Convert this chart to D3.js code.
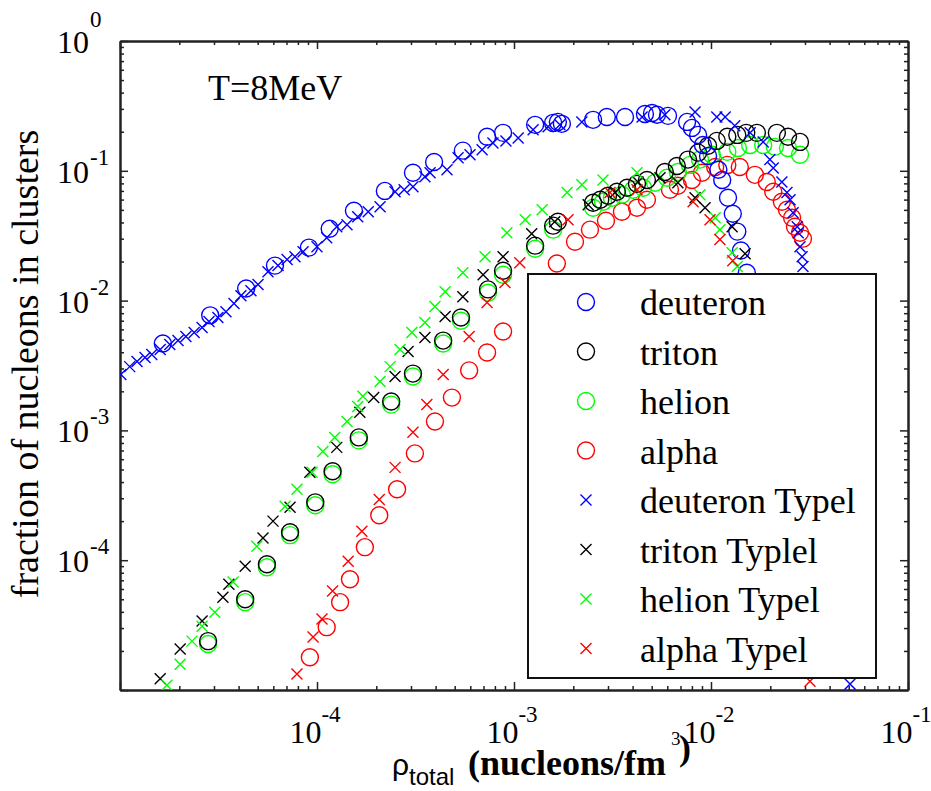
<!DOCTYPE html>
<html>
<head>
<meta charset="utf-8">
<script src="https://cdn.jsdelivr.net/npm/d3@7"></script>
<style>
  body { margin: 0; background: #fff; }
</style>
</head>
<body>
<script>
// values (nucleons/fm^3 , fraction)
var deuteronX = [1.65e-5, 2.87e-5, 4.37e-5, 6.12e-5, 9.1e-5, 1.16e-4, 1.54e-4, 2.21e-4, 3.07e-4, 3.93e-4, 5.5e-4, 7.3e-4, 8.8e-4, 1.28e-3, 1.58e-3, 1.67e-3, 1.75e-3, 2.52e-3, 2.96e-3, 3.66e-3, 4.62e-3, 5.02e-3, 5.32e-3, 6.05e-3, 7.56e-3, 8.0e-3, 8.6e-3, 9.1e-3, 9.66e-3, 1.09e-2, 1.14e-2, 1.22e-2, 1.29e-2, 1.36e-2, 1.42e-2, 1.52e-2];
var deuteronY = [4.67e-3, 7.7e-3, 1.24e-2, 1.86e-2, 2.56e-2, 3.58e-2, 4.92e-2, 7.0e-2, 9.66e-2, 0.117, 0.143, 0.183, 0.196, 0.226, 0.234, 0.238, 0.23, 0.247, 0.26, 0.26, 0.274, 0.279, 0.27, 0.265, 0.238, 0.214, 0.189, 0.158, 0.130, 0.102, 0.085, 0.062, 0.0467, 0.034, 0.0243, 0.0164];

var tritonX = [2.80e-5, 4.32e-5, 5.57e-5, 7.3e-5, 9.8e-5, 1.2e-4, 1.63e-4, 2.38e-4, 3.07e-4, 4.37e-4, 5.38e-4, 7.38e-4, 8.8e-4, 1.28e-3, 1.58e-3, 1.67e-3, 2.52e-3, 2.74e-3, 3.0e-3, 3.33e-3, 3.75e-3, 4.21e-3, 4.73e-3, 5.83e-3, 6.71e-3, 7.64e-3, 8.6e-3, 9.66e-3, 1.07e-2, 1.21e-2, 1.36e-2, 1.51e-2, 1.71e-2, 2.16e-2, 2.46e-2, 2.83e-2];
var tritonY = [2.38e-5, 5.0e-5, 9.3e-5, 1.64e-4, 2.79e-4, 4.84e-4, 8.83e-4, 1.67e-3, 2.74e-3, 4.92e-3, 7.4e-3, 1.22e-2, 1.70e-2, 2.65e-2, 3.78e-2, 4.05e-2, 5.67e-2, 5.98e-2, 6.42e-2, 6.89e-2, 7.4e-2, 7.94e-2, 8.5e-2, 9.8e-2, 0.109, 0.122, 0.138, 0.156, 0.170, 0.183, 0.189, 0.196, 0.196, 0.196, 0.183, 0.167];

var helionX = [2.80e-5, 4.32e-5, 5.57e-5, 7.3e-5, 9.8e-5, 1.2e-4, 1.63e-4, 2.38e-4, 3.07e-4, 4.37e-4, 5.38e-4, 7.38e-4, 8.8e-4, 1.28e-3, 1.58e-3, 2.52e-3, 2.83e-3, 3.14e-3, 3.53e-3, 4.02e-3, 4.52e-3, 5.2e-3, 5.98e-3, 6.79e-3, 7.82e-3, 8.79e-3, 1.01e-2, 1.21e-2, 1.37e-2, 1.58e-2, 1.84e-2, 2.11e-2, 2.46e-2, 2.83e-2];
var helionY = [2.26e-5, 4.75e-5, 8.83e-5, 1.56e-4, 2.65e-4, 4.59e-4, 8.38e-4, 1.58e-3, 2.6e-3, 4.67e-3, 7.0e-3, 1.15e-2, 1.58e-2, 2.51e-2, 3.52e-2, 5.19e-2, 5.78e-2, 6.2e-2, 6.54e-2, 7.14e-2, 7.4e-2, 8.09e-2, 8.83e-2, 9.8e-2, 0.111, 0.122, 0.133, 0.140, 0.150, 0.158, 0.158, 0.153, 0.150, 0.133];

var alphaX = [9.2e-5, 1.12e-4, 1.31e-4, 1.47e-4, 1.75e-4, 2.07e-4, 2.55e-4, 3.14e-4, 3.97e-4, 4.84e-4, 5.92e-4, 7.3e-4, 8.8e-4, 1.65e-3, 2.04e-3, 2.43e-3, 2.93e-3, 3.53e-3, 4.21e-3, 4.73e-3, 6.19e-3, 6.79e-3, 8.0e-3, 9.0e-3, 1.05e-2, 1.21e-2, 1.40e-2, 1.67e-2, 1.92e-2, 2.07e-2, 2.29e-2, 2.43e-2, 2.58e-2, 2.67e-2, 2.83e-2, 2.93e-2];
var alphaY = [1.79e-5, 3.05e-5, 4.75e-5, 7.14e-5, 1.26e-4, 2.22e-4, 3.52e-4, 6.65e-4, 1.17e-3, 1.79e-3, 2.9e-3, 3.98e-3, 5.78e-3, 1.93e-2, 2.84e-2, 3.52e-2, 4.12e-2, 4.84e-2, 5.19e-2, 5.98e-2, 7.14e-2, 7.67e-2, 8.5e-2, 9.66e-2, 0.107, 0.111, 0.107, 9.31e-2, 8.2e-2, 6.89e-2, 5.78e-2, 5.01e-2, 4.35e-2, 3.71e-2, 3.33e-2, 3.0e-2];

var deuteronTypelX = [1.01e-5, 1.12e-5, 1.22e-5, 1.34e-5, 1.45e-5, 1.60e-5, 1.79e-5, 1.97e-5, 2.16e-5, 2.38e-5, 2.61e-5, 2.83e-5, 3.14e-5, 3.45e-5, 3.79e-5, 4.11e-5, 4.62e-5, 5.02e-5, 5.64e-5, 6.34e-5, 7.05e-5, 7.73e-5, 8.5e-5, 1.0e-4, 1.12e-4, 1.26e-4, 1.42e-4, 1.61e-4, 1.82e-4, 2.09e-4, 2.49e-4, 2.77e-4, 3.07e-4, 3.53e-4, 3.75e-4, 4.57e-4, 5.2e-4, 5.98e-4, 6.89e-4, 7.82e-4, 9.1e-4, 1.05e-3, 1.25e-3, 1.49e-3, 1.71e-3, 2.21e-3, 4.47e-3, 5.83e-3, 8.3e-3, 1.07e-2, 1.18e-2, 1.32e-2, 1.58e-2, 1.84e-2, 1.99e-2, 2.07e-2, 2.29e-2, 2.43e-2, 2.52e-2, 2.61e-2, 2.74e-2, 2.77e-2, 2.83e-2, 2.90e-2, 2.93e-2, 5.08e-2];
var deuteronTypelY = [2.70e-3, 3.10e-3, 3.40e-3, 3.65e-3, 3.84e-3, 4.20e-3, 4.59e-3, 4.92e-3, 5.28e-3, 5.67e-3, 6.2e-3, 6.9e-3, 7.4e-3, 8.2e-3, 9.5e-3, 1.09e-2, 1.19e-2, 1.33e-2, 1.67e-2, 1.86e-2, 2.07e-2, 2.18e-2, 2.38e-2, 2.60e-2, 3.05e-2, 3.71e-2, 3.84e-2, 4.43e-2, 4.84e-2, 5.29e-2, 6.89e-2, 7.14e-2, 7.53e-2, 8.99e-2, 9.66e-2, 0.102, 0.126, 0.133, 0.145, 0.164, 0.170, 0.179, 0.207, 0.218, 0.226, 0.238, 0.260, 0.27, 0.284, 0.26, 0.26, 0.222, 0.196, 0.167, 0.122, 0.105, 8.2e-2, 6.8e-2, 5.98e-2, 4.75e-2, 3.71e-2, 3.33e-2, 2.60e-2, 2.18e-2, 1.83e-2, 1.11e-5];

var tritonTypelX = [1.60e-5, 2.02e-5, 2.61e-5, 3.33e-5, 3.57e-5, 4.32e-5, 5.32e-5, 5.98e-5, 7.3e-5, 9.2e-5, 1.26e-4, 1.65e-4, 1.94e-4, 2.49e-4, 2.9e-4, 3.53e-4, 4.47e-4, 5.5e-4, 6.97e-4, 8.8e-4, 1.23e-3, 1.61e-3, 2.38e-3, 3.26e-3, 4.26e-3, 5.51e-3, 6.79e-3, 8.3e-3, 9.33e-3, 1.28e-2, 1.49e-2];
var tritonTypelY = [1.22e-5, 2.07e-5, 3.40e-5, 5.19e-5, 6.54e-5, 9.0e-5, 1.48e-4, 2.0e-4, 2.56e-4, 4.75e-4, 7.4e-4, 1.38e-3, 1.79e-3, 2.6e-3, 4.05e-3, 5.19e-3, 7.53e-3, 1.07e-2, 1.58e-2, 2.18e-2, 3.28e-2, 4.05e-2, 5.48e-2, 6.8e-2, 8.2e-2, 8.83e-2, 8.09e-2, 6.2e-2, 5.19e-2, 3.71e-2, 2.30e-2];

var helionTypelX = [1.73e-5, 2.02e-5, 2.32e-5, 2.61e-5, 3.03e-5, 3.75e-5, 4.95e-5, 6.89e-5, 7.91e-5, 9.44e-5, 1.07e-4, 1.23e-4, 1.42e-4, 1.61e-4, 1.71e-4, 2.09e-4, 2.35e-4, 2.64e-4, 3.03e-4, 3.53e-4, 3.97e-4, 4.47e-4, 5.5e-4, 7.13e-4, 9.2e-4, 1.14e-3, 1.39e-3, 1.86e-3, 2.21e-3, 2.83e-3, 4.21e-3, 8.79e-3, 1.05e-2, 1.11e-2, 1.28e-2, 1.36e-2];
var helionTypelY = [1.09e-5, 1.58e-5, 2.38e-5, 3.1e-5, 3.98e-5, 6.78e-5, 1.28e-4, 2.6e-4, 3.52e-4, 4.75e-4, 6.89e-4, 8.83e-4, 1.17e-3, 1.53e-3, 1.83e-3, 2.38e-3, 3.1e-3, 4.2e-3, 5.67e-3, 6.78e-3, 8.99e-3, 1.17e-2, 1.64e-2, 2.18e-2, 3.33e-2, 4.2e-2, 5.01e-2, 6.8e-2, 7.8e-2, 8.5e-2, 9.66e-2, 6.54e-2, 4.35e-2, 3.52e-2, 2.34e-2, 1.83e-2];

var alphaTypelX = [7.91e-5, 9.55e-5, 1.06e-4, 1.2e-4, 1.44e-4, 1.69e-4, 2.07e-4, 2.49e-4, 3.07e-4, 3.61e-4, 4.37e-4, 5.92e-4, 7.3e-4, 9.0e-4, 1.07e-3, 1.88e-3, 3.07e-3, 4.21e-3, 8.11e-3, 9.89e-3, 1.11e-2, 1.29e-2, 3.18e-2];
var alphaTypelY = [1.33e-5, 2.56e-5, 3.52e-5, 5.78e-5, 9.8e-5, 1.67e-4, 2.94e-4, 5.19e-4, 9.66e-4, 1.58e-3, 2.7e-3, 5.28e-3, 9.66e-3, 1.38e-2, 1.96e-2, 4.2e-2, 6.8e-2, 7.14e-2, 5.78e-2, 4.2e-2, 2.95e-2, 2.03e-2, 1.17e-5];

var legendNames = ["deuteron", "triton", "helion", "alpha", "deuteron Typel", "triton Typlel", "helion Typel", "alpha Typel"];
var xTickExps = [-4, -3, -2, -1];
var yTickExps = [0, -1, -2, -3, -4];

var width = 931;
var height = 791;
var margin = {top: 41, left: 120, right: 23, bottom: 101};
var serif = "'Liberation Serif', 'DejaVu Serif', 'Times New Roman', serif";
var sans = "'Liberation Sans', 'DejaVu Sans', Arial, sans-serif";

var svg = d3.select("body").append("svg")
  .attr("width", width)
  .attr("height", height)
  .attr("font-family", serif);

var xScale = d3.scaleLog()
  .domain([1e-5, 1e-1])
  .range([margin.left, width - margin.right]);

var yScale = d3.scaleLog()
  .domain([1e-5, 1])
  .range([height - margin.bottom, margin.top]);

var plotW = width - margin.right - margin.left;
var plotH = height - margin.bottom - margin.top;

svg.append("defs").append("clipPath").attr("id", "plotclip")
  .append("rect")
  .attr("x", margin.left).attr("y", margin.top)
  .attr("width", plotW).attr("height", plotH);

// minor / major tick values
var xMajor = [1e-5, 1e-4, 1e-3, 1e-2, 1e-1];
var yMajor = [1e-5, 1e-4, 1e-3, 1e-2, 1e-1, 1];
function minors(lo, hi) {
  var out = [];
  for (var k = lo; k < hi; k++)
    for (var m = 2; m <= 9; m++) out.push(m * Math.pow(10, k));
  return out;
}
var xMinor = minors(-5, -1);
var yMinor = minors(-5, 0);

function drawAxis(axisFn, scale, major, minor, transform) {
  var g = svg.append("g").attr("transform", transform);
  g.call(axisFn(scale).tickValues(major).tickSize(-8).tickSizeOuter(0).tickFormat(""));
  g.append("g").call(axisFn(scale).tickValues(minor).tickSize(-4).tickSizeOuter(0).tickFormat(""));
  g.selectAll(".domain").attr("stroke", "#222").attr("stroke-width", 2);
  g.selectAll(".tick line").attr("stroke", "#222").attr("stroke-width", 1.5);
}
drawAxis(d3.axisBottom, xScale, xMajor, xMinor, "translate(0," + (height - margin.bottom) + ")");
drawAxis(d3.axisTop, xScale, xMajor, xMinor, "translate(0," + margin.top + ")");
drawAxis(d3.axisLeft, yScale, yMajor, yMinor, "translate(" + margin.left + ",0)");
drawAxis(d3.axisRight, yScale, yMajor, yMinor, "translate(" + (width - margin.right) + ",0)");

function txt(x, y, size) {
  return svg.append("text")
    .attr("x", x).attr("y", y)
    .attr("font-family", serif)
    .attr("font-size", size)
    .attr("fill", "#000");
}

// tick labels 10^n
xTickExps.forEach(function(e) {
  var t = txt(xScale(Math.pow(10, e)) - 2, 743, 32).attr("text-anchor", "middle");
  t.append("tspan").text("10");
  t.append("tspan").attr("dy", -21).attr("font-size", 23).text(e);
});
yTickExps.forEach(function(e) {
  var yy = yScale(Math.pow(10, e));
  txt(89, yy + 12, 32).attr("text-anchor", "end").text("10");
  txt(90, e === 0 ? yy - 14 : yy - 6, 23).text(e);
});

// axis titles
txt(0, 0, 38)
  .attr("transform", "translate(38,364) rotate(-90)")
  .attr("text-anchor", "middle")
  .text("fraction of nucleons in clusters");

var xt = txt(392, 775, 36);
xt.append("tspan").attr("font-family", sans).attr("font-size", 30).text("ρ");
xt.append("tspan").attr("x", 409).attr("y", 785).attr("font-family", sans).attr("font-size", 24).text("total");
xt.append("tspan").attr("x", 468).attr("y", 775).attr("font-weight", "bold").text("(nucleons/fm");
xt.append("tspan").attr("x", 671).attr("y", 745).attr("font-size", 19).text("3");
xt.append("tspan").attr("x", 679).attr("y", 760).attr("font-weight", "bold").text(")");

txt(208, 100, 36).text("T=8MeV");

// series
var colors = ["#0000ff", "#000000", "#00ff00", "#ff0000"];
var series = [
  {name: legendNames[0], xs: deuteronX, ys: deuteronY, color: colors[0], shape: "circle"},
  {name: legendNames[1], xs: tritonX, ys: tritonY, color: colors[1], shape: "circle"},
  {name: legendNames[2], xs: helionX, ys: helionY, color: colors[2], shape: "circle"},
  {name: legendNames[3], xs: alphaX, ys: alphaY, color: colors[3], shape: "circle"},
  {name: legendNames[4], xs: deuteronTypelX, ys: deuteronTypelY, color: colors[0], shape: "cross"},
  {name: legendNames[5], xs: tritonTypelX, ys: tritonTypelY, color: colors[1], shape: "cross"},
  {name: legendNames[6], xs: helionTypelX, ys: helionTypelY, color: colors[2], shape: "cross"},
  {name: legendNames[7], xs: alphaTypelX, ys: alphaTypelY, color: colors[3], shape: "cross"}
];

var crossPath = "M-5.5,-5.5L5.5,5.5M-5.5,5.5L5.5,-5.5";
function addMarker(sel, s) {
  if (s.shape === "circle") {
    sel.append("circle").attr("r", 8.5);
  } else {
    sel.append("path").attr("d", crossPath);
  }
  sel.selectAll("circle,path")
    .attr("fill", "none")
    .attr("stroke", s.color)
    .attr("stroke-width", 1.4);
}

var plot = svg.append("g").attr("clip-path", "url(#plotclip)");
var drawOrder = [3, 2, 1, 0, 4, 5, 6, 7];
drawOrder.forEach(function(i) {
  var s = series[i];
  var pts = s.xs.map(function(v, j) { return {x: v, y: s.ys[j]}; });
  plot.append("g").selectAll("g")
    .data(pts)
    .enter()
    .append("g")
    .attr("transform", function(d) {
      return "translate(" + xScale(d.x) + "," + yScale(d.y) + ")";
    })
    .each(function() { addMarker(d3.select(this), s); });
});

// legend
var legend = svg.append("g");
legend.append("rect")
  .attr("x", 528).attr("y", 274)
  .attr("width", 348).attr("height", 404)
  .attr("fill", "#fff")
  .attr("stroke", "#111")
  .attr("stroke-width", 2);
series.forEach(function(s, i) {
  var ry = 302 + i * 49.5;
  var m = legend.append("g").attr("transform", "translate(586," + ry + ")");
  addMarker(m, s);
  legend.append("text")
    .attr("x", 640).attr("y", ry + 13)
    .attr("font-family", serif)
    .attr("font-size", 36)
    .text(s.name);
});
</script>
</body>
</html>
